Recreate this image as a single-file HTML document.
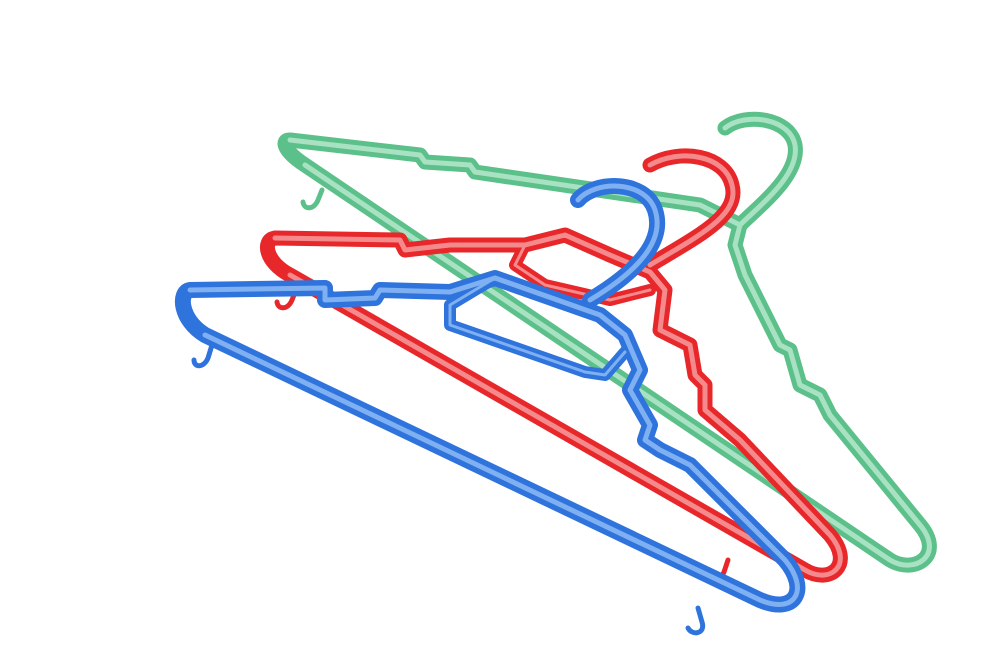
<!DOCTYPE html>
<html><head><meta charset="utf-8"><style>
html,body{margin:0;padding:0;background:#fff;width:1000px;height:669px;overflow:hidden}
svg{display:block}
</style></head><body>
<svg width="1000" height="669" viewBox="0 0 1000 669">
<!-- Green hanger -->
<g fill="none" stroke-linecap="round" stroke-linejoin="round">
  <g stroke="#5cc08a" stroke-width="15">
    <path d="M740,225 C760,205 800,175 795,145 C790,118 745,112 725,128"/>
    <path d="M290,140 L420,155 L425,162 L470,165 L475,172 L700,205 L740,225 L735,245 L745,275 L780,345 L790,350 L800,385 L820,395 L830,415 L920,525 C945,555 915,575 890,560 L305,165 C285,152 280,140 290,140 Z"/>
  </g>
  <g stroke="#a8e2c2" stroke-width="5">
    <path d="M740,225 C760,205 800,175 795,145 C790,118 745,112 725,128"/>
    <path d="M290,140 L420,155 L425,162 L470,165 L475,172 L700,205 L740,225 L735,245 L745,275 L780,345 L790,350 L800,385 L820,395 L830,415 L920,525 C945,555 915,575 890,560 L305,165"/>
  </g>
  <path d="M322,190 L318,200 C314,210 304,210 303,202" stroke="#5cc08a" stroke-width="5"/>
</g>
<!-- Red hanger -->
<g fill="none" stroke-linecap="round" stroke-linejoin="round">
  <g stroke="#e8272a" stroke-width="15">
    <path d="M650,265 C700,235 740,215 732,185 C725,155 680,148 650,165"/>
    <path d="M275,238 L400,240 L405,250 L450,245 L525,245 L565,235 L610,255 L650,272 L665,290 L660,330 L690,345 L695,375 L705,385 L705,410 L740,440 L830,535 C855,565 830,585 805,570 L290,275 C265,262 262,240 275,238 Z"/>
  </g>
  <g stroke="#e8272a" stroke-width="12">
    <path d="M525,245 L515,265 L545,285 L610,300 L650,290"/>
  </g>
  <g stroke="#f58a8c" stroke-width="5">
    <path d="M650,265 C700,235 740,215 732,185 C725,155 680,148 650,165"/>
    <path d="M275,238 L400,240 L405,250 L450,245 L525,245 L565,235 L610,255 L650,272 L665,290 L660,330 L690,345 L695,375 L705,385 L705,410 L740,440 L830,535 C855,565 830,585 805,570 L290,275"/>
    <path d="M525,245 L515,265 L545,285 L610,300 L650,290" stroke-width="3"/>
  </g>
  <g stroke="#e8272a" stroke-width="5">
    <path d="M296,290 L292,300 C288,310 278,310 277,302"/>
    <path d="M728,560 L724,572 C720,582 708,582 708,574"/>
  </g>
</g>
<!-- Blue hanger -->
<g fill="none" stroke-linecap="round" stroke-linejoin="round">
  <g stroke="#2f73dc" stroke-width="16">
    <path d="M590,300 C640,270 665,240 655,210 C645,180 595,180 578,200"/>
    <path d="M190,290 L325,288 L325,300 L375,298 L380,290 L450,292 L495,278 L600,315 L625,335 L640,370 L630,390 L650,425 L645,440 L660,450 L690,465 L700,475 L785,560 C810,590 795,615 760,600 L205,335 C180,320 178,292 190,290 Z"/>
  </g>
  <g stroke="#2f73dc" stroke-width="12">
    <path d="M495,278 L450,305 L450,325 L585,372 L605,375 L625,352"/>
  </g>
  <g stroke="#7fb0f2" stroke-width="5">
    <path d="M590,300 C640,270 665,240 655,210 C645,180 595,180 578,200"/>
    <path d="M190,290 L325,288 L325,300 L375,298 L380,290 L450,292 L495,278 L600,315 L625,335 L640,370 L630,390 L650,425 L645,440 L660,450 L690,465 L700,475 L785,560 C810,590 795,615 760,600 L205,335"/>
    <path d="M495,278 L450,305 L450,325 L585,372 L605,375 L625,352" stroke-width="3"/>
  </g>
  <g stroke="#2f73dc" stroke-width="5">
    <path d="M212,345 L208,358 C204,368 194,368 194,360"/>
    <path d="M698,608 L702,622 C706,634 692,636 688,628"/>
  </g>
</g>
</svg>
</body></html>
